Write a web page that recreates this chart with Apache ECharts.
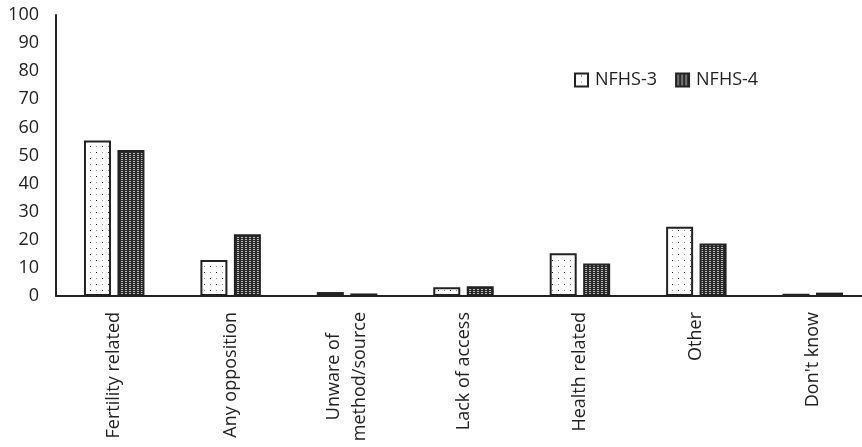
<!DOCTYPE html>
<html><head><meta charset="utf-8">
<script src="https://cdn.jsdelivr.net/npm/echarts@6/dist/echarts.min.js"></script>
<style>html,body{margin:0;padding:0;background:#fff}#c{width:862px;height:447px}</style>
</head><body><div id="c"></div>
<script>
const categories = ['Fertility related','Any opposition','Unware of\nmethod/source','Lack of access','Health related','Other',"Don't know"];
const nfhs3 = [55.3, 12.8, 1.4, 3.1, 15.2, 24.6, 0.8];
const nfhs4 = [52.0, 22.0, 0.9, 3.5, 11.6, 18.7, 1.2];
const seriesNames = ['NFHS-3','NFHS-4'];
const yTicks = {min:0, max:100, interval:10};

function dotPattern(){
  const c = document.createElement('canvas'); c.width=12; c.height=12;
  const g = c.getContext('2d');
  g.fillStyle='#fff'; g.fillRect(0,0,12,12);
  g.fillStyle='#222'; g.fillRect(6,2,1,1); g.fillRect(0,8,1,1);
  g.fillStyle='#888'; g.fillRect(0,2,1,1); g.fillRect(6,8,1,1);
  return c;
}
function checkPattern(){
  const c = document.createElement('canvas'); c.width=4; c.height=4;
  const g = c.getContext('2d');
  g.fillStyle='#2a2a2a'; g.fillRect(0,0,4,4);
  g.fillStyle='#bbb'; g.fillRect(1,1,2,1); g.fillRect(1,3,2,1);
  return c;
}
const font = 'Open Sans';
const chart = echarts.init(document.getElementById('c'));
chart.setOption({
  animation:false,
  textStyle:{fontFamily:font},
  grid:{left:56, width:815, top:15, height:281, outerBoundsMode:'none', containLabel:false},
  legend:{
    left:569, top:66, itemWidth:13, itemHeight:13, itemGap:18, icon:'rect',
    textStyle:{fontFamily:font, fontSize:18, color:'#222', padding:[0,0,0,2]},
    data:seriesNames
  },
  xAxis:{
    type:'category', data:categories,
    axisLine:{lineStyle:{color:'#222', width:2}},
    axisTick:{show:false},
    axisLabel:{rotate:90, interval:0, fontFamily:font, fontSize:18, color:'#222', margin:16,
      formatter: v => v.split('\n').map(s => '{c|' + s + '}').join('\n'),
      rich:{c:{align:'center', fontFamily:font, fontSize:18, color:'#222', lineHeight:26}}
    }
  },
  yAxis:{
    type:'value', min:yTicks.min, max:yTicks.max, interval:yTicks.interval,
    splitLine:{show:false},
    axisLine:{show:true, lineStyle:{color:'#222', width:2}},
    axisTick:{show:false},
    axisLabel:{fontFamily:font, fontSize:18, color:'#222', margin:17}
  },
  series:[
    {name:seriesNames[0], type:'bar', data:nfhs3, barWidth:27, barGap:'24%',
     itemStyle:{color:{image:dotPattern(), repeat:'repeat'}, borderColor:'#222', borderWidth:2}},
    {name:seriesNames[1], type:'bar', data:nfhs4, barWidth:27,
     itemStyle:{color:{image:checkPattern(), repeat:'repeat'}, borderColor:'#222', borderWidth:2}}
  ]
});
</script></body></html>
